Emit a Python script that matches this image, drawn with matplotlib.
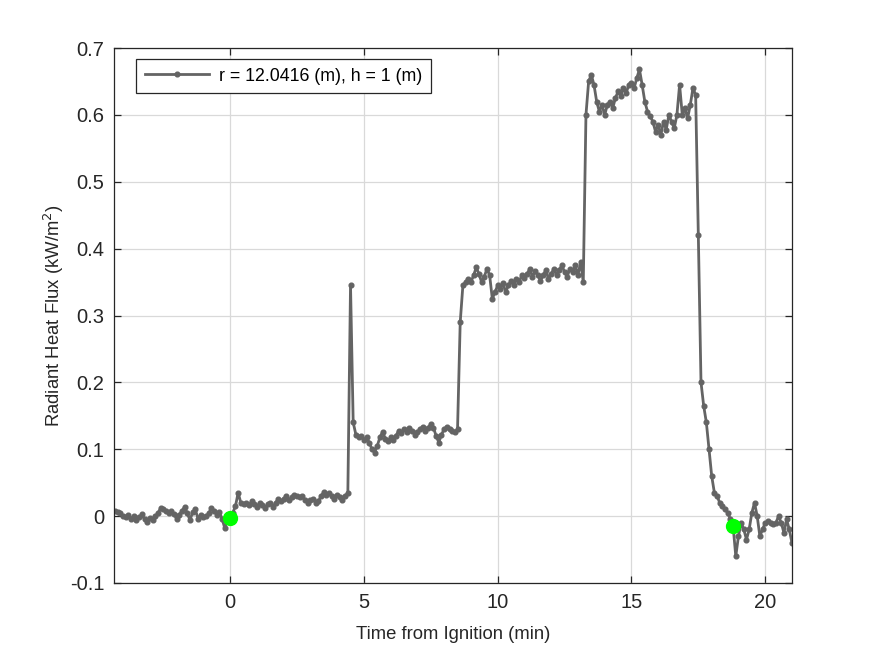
import numpy as np
import matplotlib
matplotlib.use("Agg")
import matplotlib.pyplot as plt

plt.rcParams['font.family'] = ['Liberation Sans', 'DejaVu Sans']

# time axis, one sample every 0.1 min
time_min = np.round(np.arange(-43, 211) / 10.0, 1)

# radiant heat flux (kW/m^2), one value per sample
flux = [
    # -4.3 .. 0.0
    0.008, 0.006, 0.004, 0.000, -0.002, 0.002, -0.004, 0.000, -0.006, -0.002,
    0.003, -0.005, -0.009, -0.003, -0.006, 0.000, 0.004, 0.012, 0.010, 0.008,
    0.004, 0.007, 0.003, -0.004, 0.002, 0.008, 0.014, 0.004, -0.006, 0.006,
    0.010, -0.004, 0.002, -0.002, 0.000, 0.004, 0.012, 0.008, 0.002, 0.006,
    -0.004, -0.018, -0.006, -0.003,
    # 0.1 .. 4.6
    0.005, 0.015, 0.035, 0.020, 0.018, 0.020, 0.016, 0.022, 0.018, 0.014,
    0.020, 0.016, 0.012, 0.018, 0.020, 0.014, 0.020, 0.026, 0.022, 0.026,
    0.030, 0.024, 0.028, 0.032, 0.030, 0.028, 0.030, 0.024, 0.020, 0.024,
    0.026, 0.020, 0.022, 0.030, 0.036, 0.032, 0.034, 0.030, 0.026, 0.032,
    0.028, 0.024, 0.030, 0.035, 0.345, 0.140,
    # 4.7 .. 8.7
    0.122, 0.118, 0.120, 0.114, 0.118, 0.110, 0.100, 0.095, 0.105, 0.118,
    0.126, 0.116, 0.112, 0.118, 0.114, 0.120, 0.128, 0.124, 0.130, 0.126,
    0.132, 0.128, 0.122, 0.126, 0.130, 0.134, 0.128, 0.132, 0.138, 0.132,
    0.120, 0.110, 0.122, 0.130, 0.134, 0.130, 0.128, 0.126, 0.130, 0.290,
    0.345,
    # 8.8 .. 13.4
    0.350, 0.355, 0.350, 0.360, 0.372, 0.362, 0.350, 0.358, 0.370, 0.360,
    0.325, 0.335, 0.345, 0.340, 0.348, 0.335, 0.345, 0.352, 0.345, 0.355,
    0.350, 0.360, 0.356, 0.362, 0.370, 0.358, 0.366, 0.360, 0.352, 0.360,
    0.368, 0.355, 0.362, 0.370, 0.360, 0.368, 0.375, 0.365, 0.358, 0.370,
    0.365, 0.375, 0.360, 0.380, 0.350, 0.600, 0.650,
    # 13.5 .. 17.4
    0.660, 0.645, 0.620, 0.605, 0.615, 0.600, 0.615, 0.620, 0.610, 0.625,
    0.635, 0.628, 0.640, 0.632, 0.645, 0.648, 0.640, 0.655, 0.668, 0.645,
    0.620, 0.605, 0.598, 0.590, 0.575, 0.585, 0.570, 0.590, 0.578, 0.600,
    0.590, 0.580, 0.600, 0.645, 0.600, 0.610, 0.595, 0.615, 0.640, 0.630,
    # 17.5 .. 21.0
    0.420, 0.200, 0.165, 0.140, 0.100, 0.060, 0.035, 0.030, 0.020, 0.015,
    0.010, 0.005, -0.005, -0.015, -0.060, -0.030, -0.010, -0.020, -0.035, -0.020,
    0.005, 0.020, 0.000, -0.030, -0.020, -0.010, -0.008, -0.010, -0.012, -0.010,
    0.000, -0.010, -0.025, -0.005, -0.020, -0.040,
]
assert len(flux) == len(time_min)

# start / end markers
event_t = [0.0, 18.8]
event_q = [-0.003, -0.015]

fig = plt.figure(figsize=(8.75, 6.56), dpi=100)
ax = fig.add_axes([0.1303, 0.1113, 0.7748, 0.8155])

ax.plot(time_min, flux, '-', color='#646464', linewidth=2.0,
        marker='o', markersize=3.4, label='r = 12.0416 (m), h = 1 (m)')
ax.plot(event_t, event_q, 'o', color='#00ff00', markersize=10, zorder=5)

ax.set_xlim(-4.34, 21.0)
ax.set_ylim(-0.1, 0.7)
ax.set_xticks([0, 5, 10, 15, 20])
ax.set_yticks(np.arange(-0.1, 0.71, 0.1))
ax.set_yticklabels(['-0.1', '0', '0.1', '0.2', '0.3', '0.4', '0.5', '0.6', '0.7'])

ax.grid(True, color='#d9d9d9', linewidth=0.9)
ax.set_axisbelow(True)
ax.tick_params(direction='in', top=True, right=True, labelsize=14.5,
               length=5, width=0.9, colors='#262626', pad=7)
for s in ax.spines.values():
    s.set_color('#262626')
    s.set_linewidth(0.9)

ax.set_xlabel('Time from Ignition (min)', fontsize=13.3, color='#262626', labelpad=10)
ax.set_ylabel('Radiant Heat Flux (kW/m$^2$)', fontsize=13.3, color='#262626', labelpad=2.5)

leg = ax.legend(loc='upper left', bbox_to_anchor=(0.032, 0.98), borderaxespad=0,
                fontsize=12.8, numpoints=1, fancybox=False, framealpha=1,
                edgecolor='#262626', handlelength=3.6, borderpad=0.5,
                handletextpad=0.6)
leg.get_frame().set_linewidth(0.9)

fig.savefig('out.png', dpi=100)
